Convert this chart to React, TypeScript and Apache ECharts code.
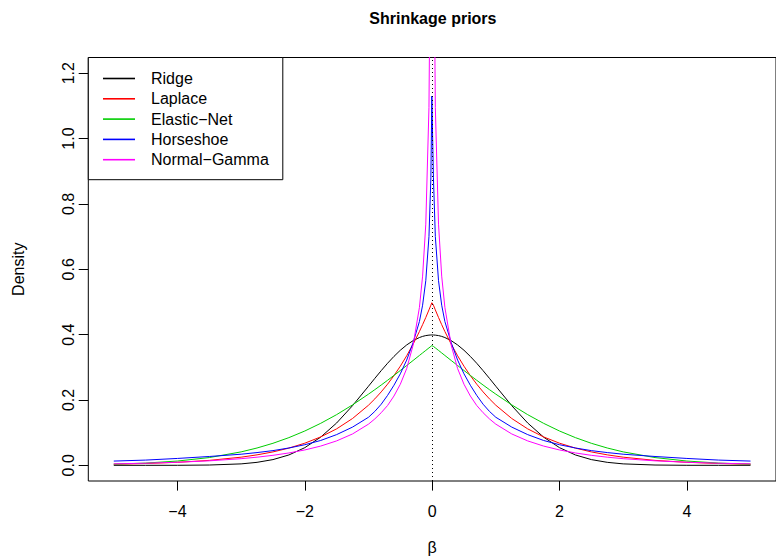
import React, { useEffect, useRef } from "react";
import * as echarts from "echarts";

// Evaluation grid for the prior densities (beta values)
const betaGrid = [
  -5, -4.5, -4, -3.5, -3, -2.75, -2.5, -2.25, -2, -1.75, -1.5, -1.25, -1,
  -0.9, -0.8, -0.7, -0.6, -0.5, -0.4, -0.3, -0.2, -0.15, -0.1, -0.05, -0.02, -0.005,
  0.005, 0.02, 0.05, 0.1, 0.15, 0.2, 0.3, 0.4, 0.5, 0.6, 0.7, 0.8, 0.9,
  1, 1.25, 1.5, 1.75, 2, 2.25, 2.5, 2.75, 3, 3.5, 4, 4.5, 5,
];

const ridge = [
  0.0, 0.0, 0.0001, 0.0009, 0.0044, 0.0091, 0.0175, 0.0317, 0.054, 0.0863, 0.1295, 0.1826, 0.242,
  0.2661, 0.2897, 0.3123, 0.3332, 0.3521, 0.3683, 0.3814, 0.391, 0.3945, 0.397, 0.3984, 0.3988, 0.3989,
  0.3989, 0.3988, 0.3984, 0.397, 0.3945, 0.391, 0.3814, 0.3683, 0.3521, 0.3332, 0.3123, 0.2897, 0.2661,
  0.242, 0.1826, 0.1295, 0.0863, 0.054, 0.0317, 0.0175, 0.0091, 0.0044, 0.0009, 0.0001, 0.0, 0.0,
];

const laplace = [
  0.0034, 0.0056, 0.0092, 0.0151, 0.0249, 0.032, 0.041, 0.0527, 0.0677, 0.0869, 0.1116, 0.1433, 0.1839,
  0.2033, 0.2247, 0.2483, 0.2744, 0.3033, 0.3352, 0.3704, 0.4094, 0.4304, 0.4524, 0.4756, 0.4901, 0.4975,
  0.4975, 0.4901, 0.4756, 0.4524, 0.4304, 0.4094, 0.3704, 0.3352, 0.3033, 0.2744, 0.2483, 0.2247, 0.2033,
  0.1839, 0.1433, 0.1116, 0.0869, 0.0677, 0.0527, 0.041, 0.032, 0.0249, 0.0151, 0.0092, 0.0056, 0.0034,
];

const elasticNet = [
  0.0034, 0.0068, 0.0131, 0.0237, 0.0411, 0.053, 0.0674, 0.0847, 0.105, 0.1285, 0.1551, 0.185, 0.2178,
  0.2315, 0.2457, 0.2602, 0.2751, 0.2902, 0.3054, 0.3207, 0.3362, 0.3439, 0.3516, 0.3593, 0.3639, 0.3662,
  0.3662, 0.3639, 0.3593, 0.3516, 0.3439, 0.3362, 0.3207, 0.3054, 0.2902, 0.2751, 0.2602, 0.2457, 0.2315,
  0.2178, 0.185, 0.1551, 0.1285, 0.105, 0.0847, 0.0674, 0.053, 0.0411, 0.0237, 0.0131, 0.0068, 0.0034,
];

const horseshoe = [
  0.013, 0.016, 0.021, 0.027, 0.034, 0.039, 0.045, 0.053, 0.063, 0.076, 0.094, 0.117, 0.147,
  0.165, 0.187, 0.214, 0.245, 0.28, 0.322, 0.375, 0.44, 0.49, 0.565, 0.7, 0.88, 1.13,
  1.13, 0.88, 0.7, 0.565, 0.49, 0.44, 0.375, 0.322, 0.28, 0.245, 0.214, 0.187, 0.165,
  0.147, 0.117, 0.094, 0.076, 0.063, 0.053, 0.045, 0.039, 0.034, 0.027, 0.021, 0.016, 0.013,
];

const normalGamma = [
  0.0045, 0.0064, 0.0094, 0.0137, 0.0203, 0.0249, 0.0306, 0.0378, 0.047, 0.0589, 0.0747, 0.096, 0.126,
  0.142, 0.161, 0.183, 0.212, 0.248, 0.296, 0.367, 0.483, 0.579, 0.738, 1.095, 1.8, 3.75,
  3.75, 1.8, 1.095, 0.738, 0.579, 0.483, 0.367, 0.296, 0.248, 0.212, 0.183, 0.161, 0.142,
  0.126, 0.096, 0.0747, 0.0589, 0.047, 0.0378, 0.0306, 0.0249, 0.0203, 0.0137, 0.0094, 0.0064, 0.0045,
];

const priorNames = ["Ridge", "Laplace", "Elastic\u2212Net", "Horseshoe", "Normal\u2212Gamma"];
const priorColors = ["#000000", "#FF0000", "#00CD00", "#0000FF", "#FF00FF"];

const xTicks = [-4, -2, 0, 2, 4];
const yTicks = [0, 0.2, 0.4, 0.6, 0.8, 1.0, 1.2];

const FONT = "'Liberation Sans', Arial, Helvetica, sans-serif";

// plot region (pixels)
const PLOT_LEFT = 88.3;
const PLOT_TOP = 57.5;
const PLOT_W = 689.2;
const PLOT_H = 424.3;

export default function App() {
  const ref = useRef<HTMLDivElement>(null);

  useEffect(() => {
    if (!ref.current) return;
    const chart = echarts.init(ref.current, null, { renderer: "svg" });

    const curves = [ridge, laplace, elasticNet, horseshoe, normalGamma];
    const series: any[] = curves.map((vals, i) => ({
      name: priorNames[i],
      type: "line",
      data: betaGrid.map((b, j) => [b, vals[j]]),
      symbol: "none",
      showSymbol: false,
      clip: true,
      silent: true,
      lineStyle: { color: priorColors[i], width: 1 },
      itemStyle: { color: priorColors[i] },
    }));

    // dotted reference line at beta = 0
    series[series.length - 1].markLine = {
      silent: true,
      symbol: ["none", "none"],
      label: { show: false },
      lineStyle: { color: "#000", width: 1, type: [1, 3] },
      data: [{ xAxis: 0 }],
    };

    chart.setOption({
      animation: false,
      backgroundColor: "#ffffff",
      grid: {
        left: PLOT_LEFT,
        top: PLOT_TOP,
        width: PLOT_W,
        height: PLOT_H,
        show: true,
        borderColor: "#000",
        borderWidth: 1,
        backgroundColor: "transparent",
      },
      xAxis: {
        type: "value",
        min: -5.4,
        max: 5.4,
        name: "\u03b2",
        nameLocation: "middle",
        nameGap: 58,
        nameTextStyle: { fontFamily: FONT, fontSize: 16, color: "#000" },
        axisLine: { show: false, onZero: false },
        splitLine: { show: false },
        axisTick: {
          show: true,
          inside: false,
          length: 9.6,
          customValues: xTicks,
          lineStyle: { color: "#000", width: 1 },
        },
        axisLabel: {
          customValues: xTicks,
          margin: 22,
          fontFamily: FONT,
          fontSize: 16,
          color: "#000",
          formatter: (v: number) => String(v).replace("-", "\u2212"),
        },
      },
      yAxis: {
        type: "value",
        min: -0.048,
        max: 1.248,
        name: "Density",
        nameLocation: "middle",
        nameGap: 62,
        nameRotate: 90,
        nameTextStyle: { fontFamily: FONT, fontSize: 16, color: "#000" },
        axisLine: { show: false, onZero: false },
        splitLine: { show: false },
        axisTick: {
          show: true,
          inside: false,
          length: 9.6,
          customValues: yTicks,
          lineStyle: { color: "#000", width: 1 },
        },
        axisLabel: {
          customValues: yTicks,
          rotate: 90,
          margin: 12,
          fontFamily: FONT,
          fontSize: 16,
          color: "#000",
          formatter: (v: number) => v.toFixed(1),
        },
      },
      legend: {
        data: priorNames,
        orient: "vertical",
        left: PLOT_LEFT,
        top: PLOT_TOP,
        icon: "rect",
        itemWidth: 32,
        itemHeight: 1.6,
        itemGap: 0.3,
        padding: [11, 14, 10, 14.7],
        borderColor: "#000",
        borderWidth: 1,
        borderRadius: 0,
        backgroundColor: "#ffffff",
        selectedMode: false,
        textStyle: {
          fontFamily: FONT,
          fontSize: 16,
          color: "#000",
          lineHeight: 20,
          padding: [0, 0, 0, 11],
        },
      },
      graphic: [
        {
          type: "text",
          x: PLOT_LEFT + PLOT_W / 2,
          y: 18,
          style: {
            text: "Shrinkage priors",
            font: `bold 16px ${FONT}`,
            fill: "#000",
            align: "center",
            verticalAlign: "middle",
          },
        },
      ],
      series,
    });

    return () => chart.dispose();
  }, []);

  return (
    <div
      ref={ref}
      style={{ position: "absolute", left: 0, top: 0, width: 776, height: 560 }}
    />
  );
}
